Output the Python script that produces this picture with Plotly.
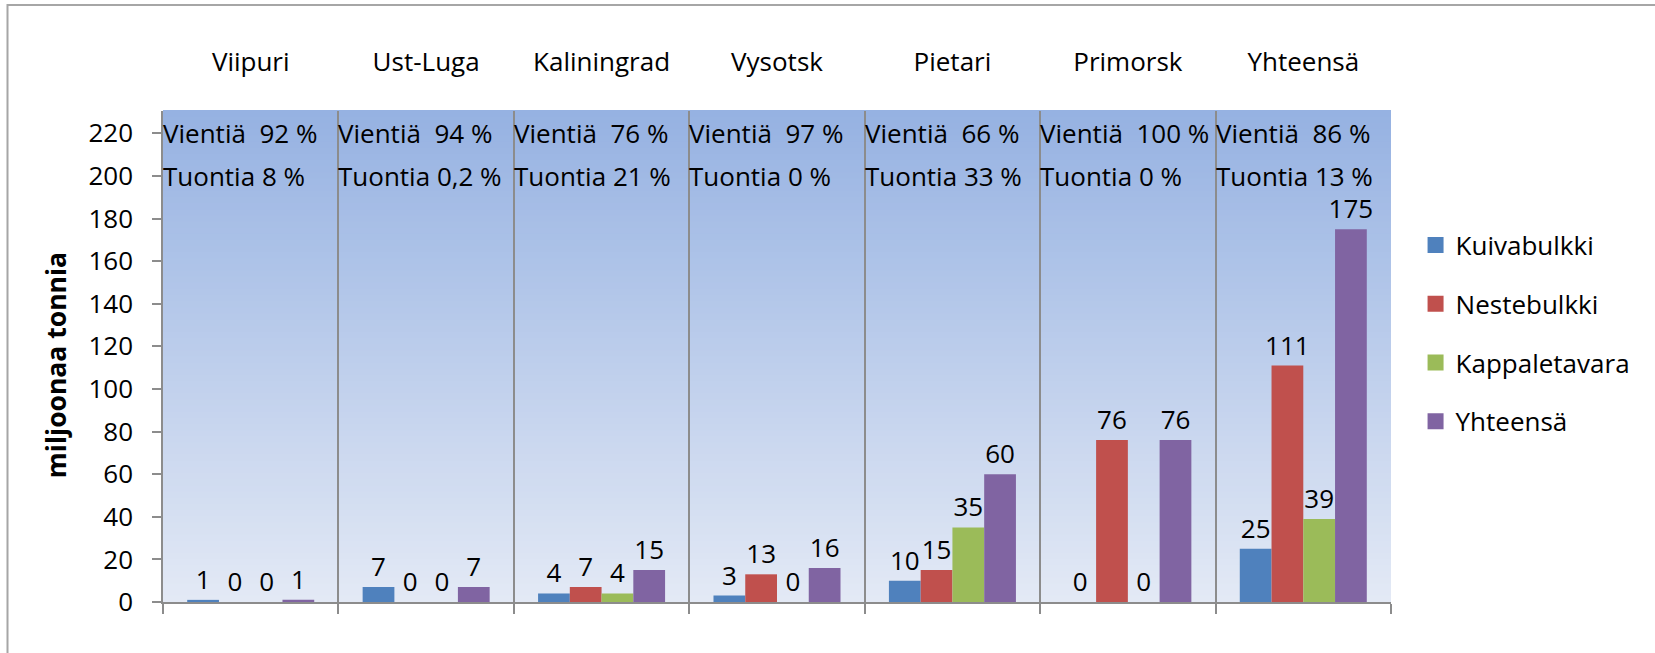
import plotly.graph_objects as go

# Satamat ja lastityypit (miljoonaa tonnia)
satamat = ["Viipuri", "Ust-Luga", "Kaliningrad", "Vysotsk", "Pietari", "Primorsk", "Yhteensä"]
kuivabulkki = [1, 7, 4, 3, 10, 0, 25]
nestebulkki = [0, 0, 7, 13, 15, 76, 111]
kappaletavara = [0, 0, 4, 0, 35, 0, 39]
yhteensa = [1, 7, 15, 16, 60, 76, 175]

# Viennin ja tuonnin osuudet
vienti = ["92 %", "94 %", "76 %", "97 %", "66 %", "100 %", "86 %"]
tuonti = ["8 %", "0,2 %", "21 %", "0 %", "33 %", "0 %", "13 %"]

y_ticks = list(range(0, 221, 20))

FONT = "Open Sans"
FS = 26
GRAY = "#8C8C8C"

sarjat = [
    ("Kuivabulkki", kuivabulkki, "#4F81BD"),
    ("Nestebulkki", nestebulkki, "#C0504D"),
    ("Kappaletavara", kappaletavara, "#9BBB59"),
    ("Yhteensä", yhteensa, "#8064A2"),
]

fig = go.Figure()
for nimi, arvot, vari in sarjat:
    fig.add_trace(go.Bar(
        x=satamat, y=arvot, name=nimi, marker_color=vari, marker_line_width=0,
        text=[str(v) for v in arvot], textposition="outside", cliponaxis=False,
        constraintext="none", textfont=dict(family=FONT, size=FS, color="black"),
        showlegend=False, hoverinfo="x+y+name",
    ))

# selitteet isommilla neliöillä
for nimi, arvot, vari in sarjat:
    fig.add_trace(go.Scatter(
        x=[None], y=[None], mode="markers", name=nimi, legendgroup=nimi,
        marker=dict(symbol="square", size=18, color=vari),
    ))

# näkymätön sarja yläreunan luokka-akselia varten
fig.add_trace(go.Scatter(
    x=satamat, y=[0] * len(satamat), xaxis="x2", mode="markers",
    marker=dict(opacity=0), showlegend=False, hoverinfo="skip",
))

# liukuväritausta kuva-alueelle
n_strip = 80
top_c = (150, 178, 226)
bot_c = (227, 233, 245)
shapes = []
for i in range(n_strip):
    t = i / (n_strip - 1)
    c = tuple(round(bot_c[k] + (top_c[k] - bot_c[k]) * t) for k in range(3))
    shapes.append(dict(
        type="rect", xref="x domain", yref="y domain",
        x0=0, x1=1, y0=i / n_strip, y1=(i + 1) / n_strip + 0.002,
        fillcolor="rgb(%d,%d,%d)" % c, line_width=0, layer="below",
    ))

# kaavion reunaviiva
shapes.append(dict(
    type="rect", xref="paper", yref="paper",
    x0=(7.5 - 163) / 1228, x1=1.5, y0=-0.5, y1=1 + (111 - 5) / 490.7,
    line=dict(color="#A6A6A6", width=2), fillcolor="rgba(0,0,0,0)", layer="below",
))

annotations = []
for i in range(len(satamat)):
    annotations.append(dict(
        x=i - 0.5, y=220, xref="x", yref="y", xanchor="left", yanchor="middle",
        text="Vientiä\u00a0 " + vienti[i], showarrow=False, xshift=-2,
        font=dict(family=FONT, size=FS, color="black"),
    ))
    annotations.append(dict(
        x=i - 0.5, y=200, xref="x", yref="y", xanchor="left", yanchor="middle",
        text="Tuontia " + tuonti[i], showarrow=False, xshift=-2,
        font=dict(family=FONT, size=FS, color="black"),
    ))

# y-akselin otsikko
annotations.append(dict(
    x=(56 - 163) / 1228, y=(601.7 - 365) / 490.7, xref="paper", yref="paper",
    xanchor="center", yanchor="middle", textangle=-90, showarrow=False,
    text="<b>miljoonaa tonnia</b>", font=dict(family=FONT, size=26.5, color="black"),
))

fig.update_layout(
    width=1655, height=653,
    margin=dict(l=163, r=264, t=111, b=51.3, autoexpand=False),
    paper_bgcolor="white", plot_bgcolor="rgba(0,0,0,0)",
    barmode="group", bargap=0.276, bargroupgap=0,
    font=dict(family=FONT, size=FS, color="black"),
    shapes=shapes, annotations=annotations,
    showlegend=True,
    legend=dict(
        x=1.02, y=0.775, xanchor="left", yanchor="top",
        font=dict(family=FONT, size=FS, color="black"),
        tracegroupgap=22, bgcolor="rgba(0,0,0,0)",
    ),
    xaxis=dict(
        type="category", side="bottom", range=[-0.5, len(satamat) - 0.5],
        tickson="boundaries", ticks="outside", ticklen=10, tickwidth=1.5,
        tickcolor=GRAY, showticklabels=False,
        showline=True, linecolor=GRAY, linewidth=2,
        showgrid=True, gridcolor=GRAY, gridwidth=1.5,
    ),
    xaxis2=dict(
        type="category", overlaying="x", side="top", anchor="y",
        range=[-0.5, len(satamat) - 0.5], showline=False, ticks="",
        showgrid=False, zeroline=False, ticklabelstandoff=34,
        tickfont=dict(family=FONT, size=FS, color="black"),
    ),
    yaxis=dict(
        range=[0, 230.5], tickvals=y_ticks, ticks="outside", ticklen=9,
        tickwidth=1.5, tickcolor=GRAY, showline=True, linecolor=GRAY,
        linewidth=1.5, showgrid=False, zeroline=False, ticklabelstandoff=14,
        tickfont=dict(family=FONT, size=FS, color="black"),
    ),
)

fig.write_html("out.html", config={"displayModeBar": False},
               post_script="document.body.style.margin='0';")
